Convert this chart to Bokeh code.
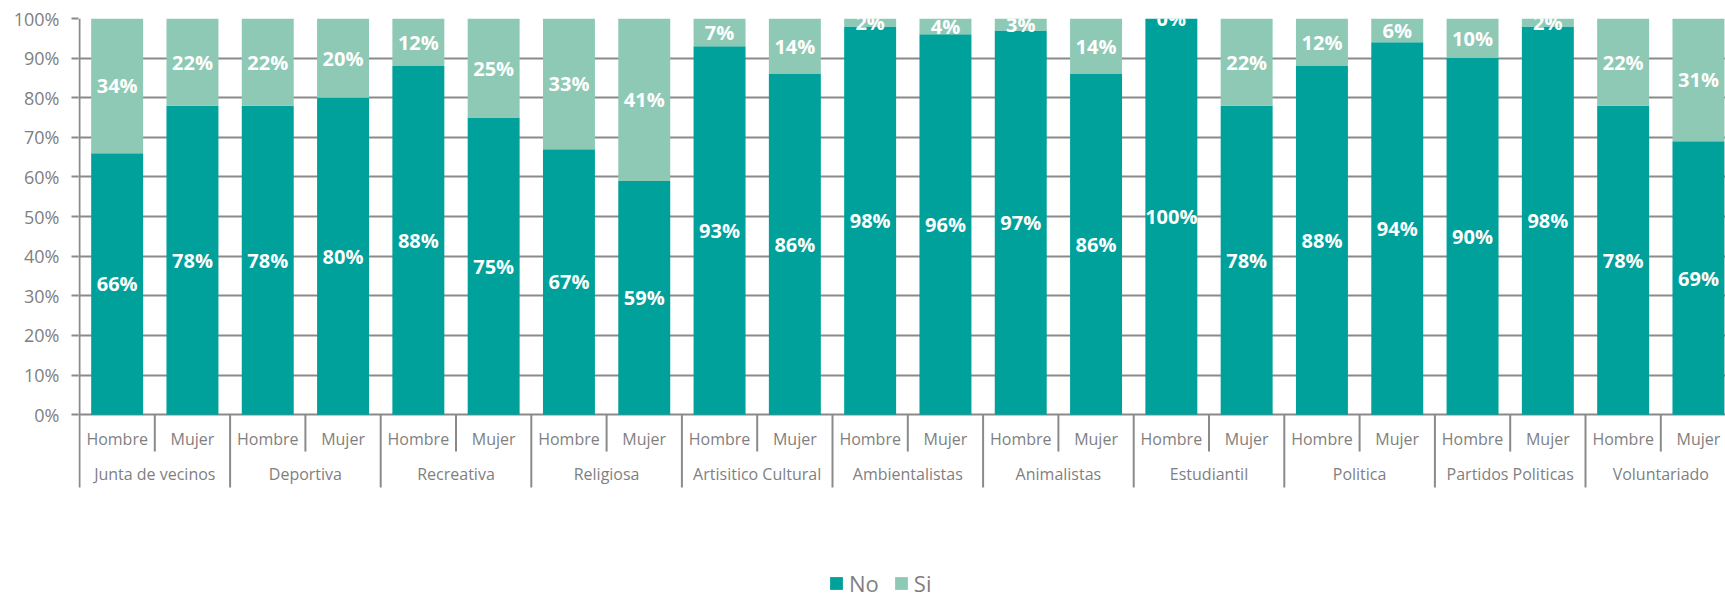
from bokeh.plotting import figure
from bokeh.models import (Range1d, FixedTicker, NumeralTickFormatter, ColumnDataSource,
                          Legend, LegendItem)
from bokeh.core.properties import value
from bokeh.embed import file_html
from bokeh.resources import INLINE

# ---------------- data ----------------
groups = ["Junta de vecinos", "Deportiva", "Recreativa", "Religiosa", "Artisitico Cultural",
          "Ambientalistas", "Animalistas", "Estudiantil", "Politica", "Partidos Politicas",
          "Voluntariado"]
sexes = ["Hombre", "Mujer"]
no_pct = [66, 78, 78, 80, 88, 75, 67, 59, 93, 86, 98, 96, 97, 86, 100, 78, 88, 94, 90, 98, 78, 69]
si_pct = [34, 22, 22, 20, 12, 25, 33, 41, 7, 14, 2, 4, 3, 14, 0, 22, 12, 6, 10, 2, 22, 31]
y_ticks = [0, 10, 20, 30, 40, 50, 60, 70, 80, 90, 100]

# ---------------- styles ----------------
C_NO = "#00A19B"
C_SI = "#8EC9B5"
GRAY_LINE = "#8a8a8a"
GRAY_TEXT = "#7f7f7f"
FONT = "Open Sans"

n = len(no_pct)
cats = [s for g in groups for s in sexes]
xc = [i + 0.5 for i in range(n)]
no = [v / 100 for v in no_pct]
si = [v / 100 for v in si_pct]

src = ColumnDataSource(dict(
    x=xc, no=no, si=si, top=[a + b for a, b in zip(no, si)],
    no_mid=[a / 2 for a in no], si_mid=[a + b / 2 for a, b in zip(no, si)],
    no_lab=[f"{v}%" for v in no_pct], si_lab=[f"{v}%" for v in si_pct],
    cat=cats,
))

FIG_W, FIG_H = 1725, 598
LEFT, TOP = 78, 18
FRAME_W = FIG_W - LEFT
FRAME_H = FIG_H - TOP
STEP = 75.3          # px per category
PX_PER_UNIT = 396.2  # px per 100 %
x0 = -1 / STEP
y_bottom = 1.0 - FRAME_H / PX_PER_UNIT
AX_BOTTOM = -0.1837

p = figure(width=FIG_W, height=FIG_H, output_backend="svg", toolbar_location=None,
           x_range=Range1d(x0, x0 + FRAME_W / STEP), y_range=Range1d(y_bottom, 1.0),
           x_axis_type=None, min_border_left=LEFT, min_border_right=0,
           min_border_top=TOP, min_border_bottom=0)
p.outline_line_color = None
p.xgrid.visible = False

# y axis
yax = p.yaxis[0]
yax.ticker = FixedTicker(ticks=[t / 100 for t in y_ticks])
yax.formatter = NumeralTickFormatter(format="0%")
yax.axis_line_color = None
yax.major_tick_line_color = GRAY_LINE
yax.major_tick_line_width = 2
yax.major_tick_out = 7
yax.major_tick_in = 0
yax.minor_tick_line_color = None
yax.major_label_text_font = FONT
yax.major_label_text_font_size = "18px"
yax.major_label_text_color = GRAY_TEXT
yax.major_label_standoff = 12
p.ygrid.grid_line_color = GRAY_LINE
p.ygrid.grid_line_width = 2

# axis line (also the leftmost category separator)
p.segment(x0=[0], y0=[AX_BOTTOM], x1=[0], y1=[1.0], line_color=GRAY_LINE, line_width=2)

# bars
r_no = p.vbar(x="x", bottom=0, top="no", width=0.69, source=src,
              fill_color=C_NO, line_color=None)
r_si = p.vbar(x="x", bottom="no", top="top", width=0.69, source=src,
              fill_color=C_SI, line_color=None)

# data labels
lab_kw = dict(source=src, text_color="white", text_font=value(FONT), text_font_size="20px",
              text_font_style="bold", text_align="center", text_baseline="middle")
p.text(x="x", y="no_mid", text="no_lab", **lab_kw)
p.text(x="x", y="si_mid", text="si_lab", **lab_kw)

# category labels (two levels)
p.text(x="x", y=-0.0618, text="cat", source=src, text_color=GRAY_TEXT,
       text_font=value(FONT), text_font_size="16px", text_align="center",
       text_baseline="middle")
gx = [2 * g + 1 for g in range(len(groups))]
p.text(x=gx, y=[-0.150] * len(groups), text=groups, text_color=GRAY_TEXT,
       text_font=value(FONT), text_font_size="16px", text_align="center",
       text_baseline="middle")

# separators
short_x = [2 * g + 1 for g in range(len(groups))]
p.segment(x0=short_x, y0=[0] * len(short_x), x1=short_x, y1=[-0.093] * len(short_x),
          line_color=GRAY_LINE, line_width=2)
long_x = [2 * g for g in range(1, len(groups))]
p.segment(x0=long_x, y0=[0] * len(long_x), x1=long_x, y1=[AX_BOTTOM] * len(long_x),
          line_color=GRAY_LINE, line_width=2)

# legend
legend = Legend(items=[LegendItem(label="No", renderers=[r_no]),
                       LegendItem(label="Si", renderers=[r_si])],
                orientation="horizontal", location=(750, 0),
                margin=0, padding=0, spacing=14, label_standoff=5,
                glyph_width=16, glyph_height=16,
                label_text_font=FONT, label_text_font_size="22px",
                label_text_color=GRAY_TEXT, border_line_color=None,
                background_fill_alpha=0)
p.add_layout(legend, "center")

open("out.html", "w").write(file_html(p, INLINE))
